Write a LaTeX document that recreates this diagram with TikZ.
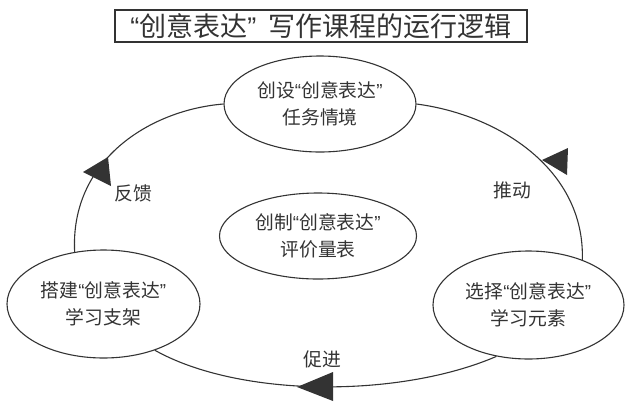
\documentclass[tikz,border=0pt]{standalone}
\usepackage{fontspec}
\setmainfont{Noto Sans CJK SC}
\newfontfamily\quotefont{Liberation Sans}
\newcommand\lqm{{\quotefont “}}
\newcommand\rqm{{\quotefont ”}}
\usetikzlibrary{shapes.geometric}
\definecolor{ink}{HTML}{333333}
\begin{document}
\begin{tikzpicture}[x=1pt,y=-1pt,
  stage/.style={ellipse, draw=ink, line width=1.1pt, inner sep=0pt},
  txt/.style={text=ink, align=center, inner sep=0pt, font=\fontsize{18.8}{27}\selectfont},
  flow/.style={draw=ink, line width=1.1pt},
  marker/.style={fill=ink}]
\useasboundingbox (0,0) rectangle (627,405);
\node[draw=ink, line width=1.3pt, minimum width=412pt, minimum height=32pt, inner sep=0pt,
      text=ink, font=\fontsize{27}{27}\selectfont] (title) at (321,26) {\lqm 创意表达\rqm\hspace{0.45em}写作课程的运行逻辑};
\node[stage, minimum width=192pt, minimum height=96pt,
      label={[txt]center:创设\lqm 创意表达\rqm\\任务情境}] (t) at (320,104) {};
\node[stage, minimum width=197pt, minimum height=86pt,
      label={[txt]center:创制\lqm 创意表达\rqm\\评价量表}] (c) at (318,236) {};
\node[stage, minimum width=193pt, minimum height=108pt,
      label={[txt]center:搭建\lqm 创意表达\rqm\\学习支架}] (bl) at (103.5,304) {};
\node[stage, minimum width=191pt, minimum height=108pt,
      label={[txt]center:选择\lqm 创意表达\rqm\\学习元素}] (br) at (528.5,305) {};
\draw[flow] (bl.119) .. controls (70,160) and (150,110) .. (t.180);
\draw[flow] (t.0) .. controls (500,115) and (585,170) .. (br.40);
\draw[flow] (br.238) .. controls (400,398) and (240,398) .. (bl.318);
\fill[marker] (83,172) -- (108,157) -- (111,186) -- cycle;
\fill[marker] (542,160) -- (568,148) -- (567,175) -- cycle;
\fill[marker] (297,387) -- (333,372) -- (333,401) -- cycle;
\node[txt] (fk) at (133,193) {反馈};
\node[txt] (td) at (512,190) {推动};
\node[txt] (cj) at (322,359) {促进};
\end{tikzpicture}
\end{document}
